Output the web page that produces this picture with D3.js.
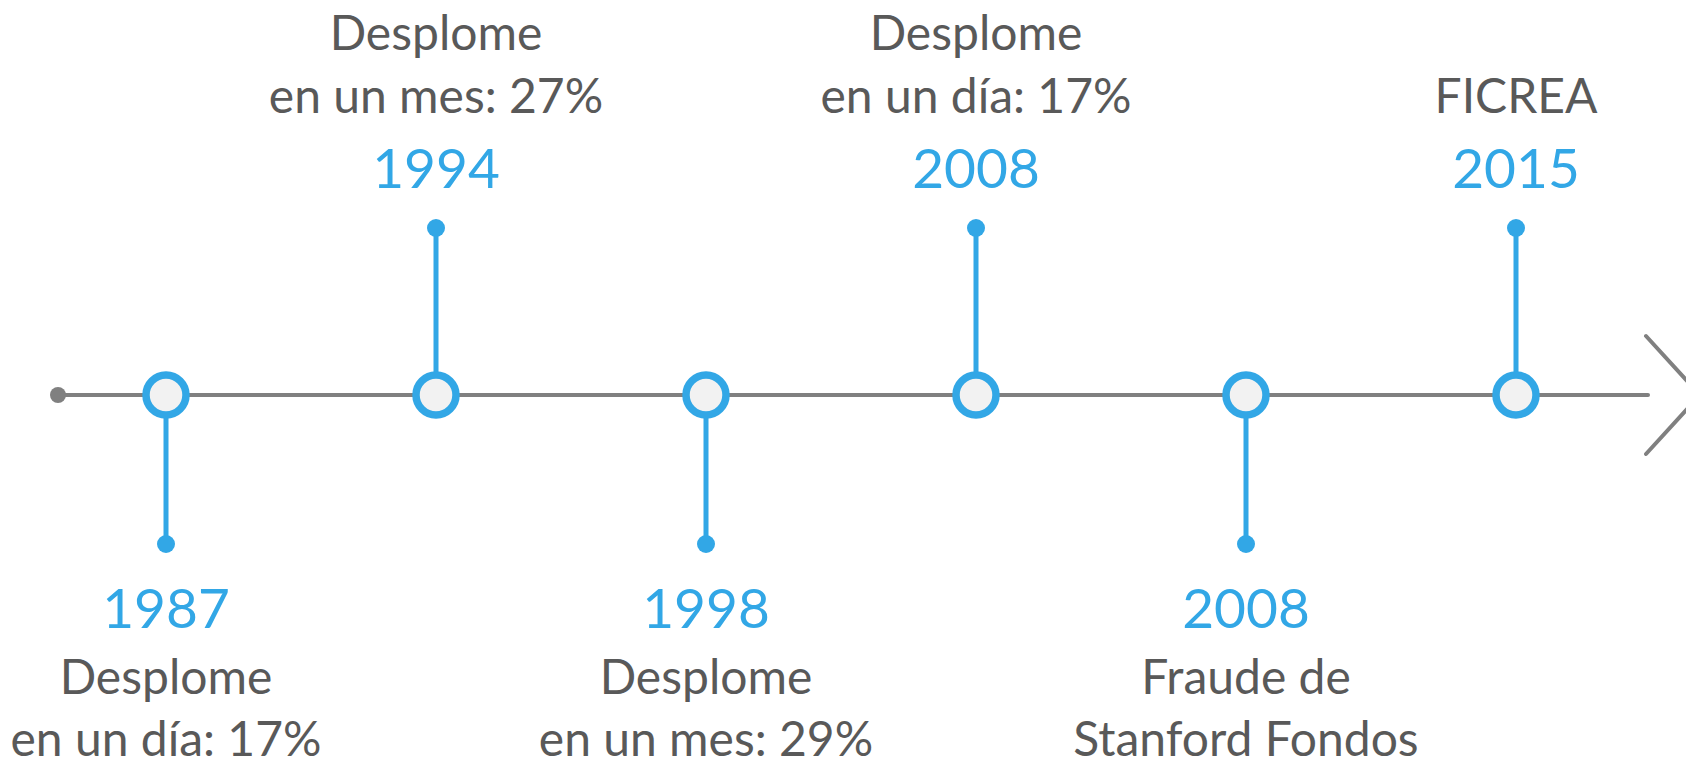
<!doctype html>
<html lang="es">
  <head>
    <meta charset="UTF-8" />
    <title>Línea de tiempo</title>
    <script src="https://d3js.org/d3.v7.min.js"></script>
    <style>
      body {
        margin: 0;
        padding: 0;
        overflow: hidden;
        background: #fff;
      }
      svg {
        display: block;
      }
    </style>
  </head>
  <body>
    <script>
      // timeline data
      const years = ["1987", "1994", "1998", "2008", "2008", "2015"];
      const labels = [
        ["Desplome", "en un día: 17%"],
        ["Desplome", "en un mes: 27%"],
        ["Desplome", "en un mes: 29%"],
        ["Desplome", "en un día: 17%"],
        ["Fraude de", "Stanford Fondos"],
        ["FICREA"],
      ];
      const sides = ["down", "up", "down", "up", "down", "up"];

      const width = 1686;
      const height = 762;
      const axisY = 395;
      const blue = "#32a7e6";
      const grey = "#808080";
      const textGrey = "#595959";
      const font = "Lato, 'Open Sans', sans-serif";

      const events = years.map((y, i) => ({ i, year: y, lines: labels[i], side: sides[i] }));

      const x = d3.scaleLinear().domain([0, events.length - 1]).range([166, 1516]);

      const svg = d3
        .select("body")
        .append("svg")
        .attr("width", width)
        .attr("height", height);

      // main axis
      svg
        .append("line")
        .attr("x1", x(0) - 108)
        .attr("x2", x(events.length - 1) + 132)
        .attr("y1", axisY)
        .attr("y2", axisY)
        .attr("stroke", grey)
        .attr("stroke-width", 4)
        .attr("stroke-linecap", "round");

      svg
        .append("circle")
        .attr("cx", x(0) - 108)
        .attr("cy", axisY)
        .attr("r", 8)
        .attr("fill", grey);

      // arrow head (chevron)
      const ax = x(events.length - 1) + 184;
      svg
        .append("path")
        .attr("d", d3.line()([[ax - 54, axisY - 59], [ax, axisY], [ax - 54, axisY + 59]]))
        .attr("fill", "none")
        .attr("stroke", grey)
        .attr("stroke-width", 4)
        .attr("stroke-linecap", "round");

      const stemEnd = (d) => (d.side === "up" ? axisY - 167 : axisY + 149);

      const g = svg
        .append("g")
        .selectAll("g")
        .data(events)
        .join("g");

      g.append("line")
        .attr("x1", (d) => x(d.i))
        .attr("x2", (d) => x(d.i))
        .attr("y1", axisY)
        .attr("y2", stemEnd)
        .attr("stroke", blue)
        .attr("stroke-width", 5);

      g.append("circle")
        .attr("cx", (d) => x(d.i))
        .attr("cy", stemEnd)
        .attr("r", 9)
        .attr("fill", blue);

      g.append("circle")
        .attr("cx", (d) => x(d.i))
        .attr("cy", axisY)
        .attr("r", 20)
        .attr("fill", "#f2f2f2")
        .attr("stroke", blue)
        .attr("stroke-width", 7.5);

      // year labels
      g.append("text")
        .attr("x", (d) => x(d.i))
        .attr("y", (d) => (d.side === "up" ? 188 : 628))
        .attr("text-anchor", "middle")
        .attr("fill", blue)
        .style("font-family", font)
        .style("font-size", "55px")
        .text((d) => d.year);

      // descriptions
      g.each(function (d) {
        const n = d.lines.length;
        d3.select(this)
          .selectAll("text.desc")
          .data(d.lines)
          .join("text")
          .attr("class", "desc")
          .attr("x", x(d.i))
          .attr("y", (t, j) => (d.side === "up" ? 113 - (n - 1 - j) * 63 : 694 + j * 62))
          .attr("text-anchor", "middle")
          .attr("fill", textGrey)
          .style("font-family", font)
          .style("font-size", "48px")
          .text((t) => t);
      });
    </script>
  </body>
</html>
